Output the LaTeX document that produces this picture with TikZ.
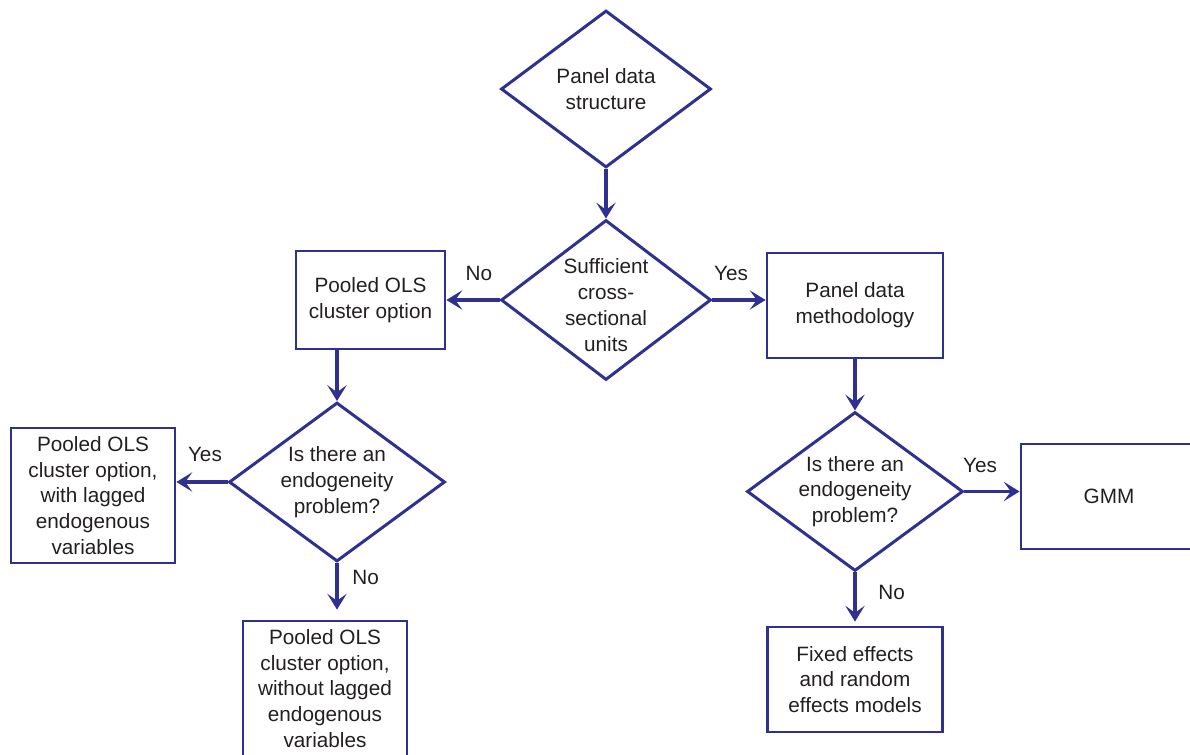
\documentclass[tikz,border=0pt]{standalone}
\usepackage{fontspec}
\setmainfont{Liberation Sans}
\usetikzlibrary{shapes.geometric,positioning,arrows.meta}
\definecolor{flowblue}{RGB}{48,48,145}
\definecolor{inkgrey}{RGB}{35,31,32}

\tikzset{
  decision/.style={diamond, draw=flowblue, line width=1.7pt, inner sep=0pt,
    minimum width=4.32cm, minimum height=3.18cm},
  decisiontext/.style={align=center, text=inkgrey, font=\fontsize{11.8}{14.7}\selectfont},
  block/.style={rectangle, draw=flowblue, line width=1.6pt, align=center, inner sep=2pt,
    text=inkgrey, font=\fontsize{11.8}{14.7}\selectfont},
  answer/.style={text=inkgrey, font=\fontsize{11.8}{14.7}\selectfont},
  flow/.style={draw=flowblue, line width=1.8pt, -{Stealth[length=9pt,width=11pt,inset=4pt]}}
}

\begin{document}
\begin{tikzpicture}[node distance=4cm,on grid,auto,every edge/.style={flow}]
	\useasboundingbox (0,0) rectangle (23.8,-15.1);

	\node[decision, minimum width=4.2cm, minimum height=3.14cm,
	      label={[decisiontext]center:Panel data\\structure}] (panel) at (12.12,-1.78) {};
	\node[decision, minimum width=4.2cm, minimum height=3.2cm,
	      label={[decisiontext, yshift=-0.1cm]center:Sufficient\\cross-\\sectional\\units}] (suff) [below=4.22cm of panel] {};

	\node[block, minimum width=2.98cm, minimum height=1.96cm] (pooled) [left=4.71cm of suff] {Pooled OLS\\cluster option};
	\node[block, minimum width=3.52cm, minimum height=2.1cm] (method) [below right=0.11cm and 4.98cm of suff] {Panel data\\methodology};

	\node[decision, label={[decisiontext]center:Is there an\\endogeneity\\problem?}] (endoL) [below left=3.64cm and 0.67cm of pooled] {};
	\node[block, minimum width=3.28cm, minimum height=2.7cm] (lagged) [below left=0.27cm and 4.88cm of endoL] {Pooled OLS\\cluster option,\\with lagged\\endogenous\\variables};
	\node[block, minimum width=3.28cm, minimum height=2.7cm] (nolag) [below left=4.13cm and 0.24cm of endoL] {Pooled OLS\\cluster option,\\without lagged\\endogenous\\variables};

	\node[decision, label={[decisiontext]center:Is there an\\endogeneity\\problem?}] (endoR) [below=3.72cm of method] {};
	\node[block, minimum width=3.52cm, minimum height=2.1cm] (gmm) [below right=0.1cm and 5.08cm of endoR] {GMM};
	\node[block, minimum width=3.5cm, minimum height=2.1cm] (fixed) [below=3.76cm of endoR] {Fixed effects\\and random\\effects models};

	\path
		(panel) 	edge (suff)
		(suff.west) 	edge node[answer, above=0.24cm, xshift=0.12cm] {No} (pooled.east)
		(suff.east) 	edge node[answer, above=0.24cm, xshift=-0.16cm] {Yes} (suff.east -| method.west)

		(endoL.north |- pooled.south) 	edge (endoL.north)
		(endoL.west) 	edge node[answer, above=0.26cm, xshift=0.06cm] {Yes} (endoL.west -| lagged.east)
		(endoL.south) 	edge node[answer, pos=0.3, right=0.16cm] {No} ([yshift=0.2cm]endoL.south |- nolag.north)

		(method) 	edge (endoR)
		(endoR.east) 	edge node[answer, above=0.22cm, xshift=-0.24cm] {Yes} (endoR.east -| gmm.west)
		(endoR.south) 	edge node[answer, pos=0.4, right=0.32cm] {No} ([yshift=0.08cm]fixed.north);
\end{tikzpicture}
\end{document}
